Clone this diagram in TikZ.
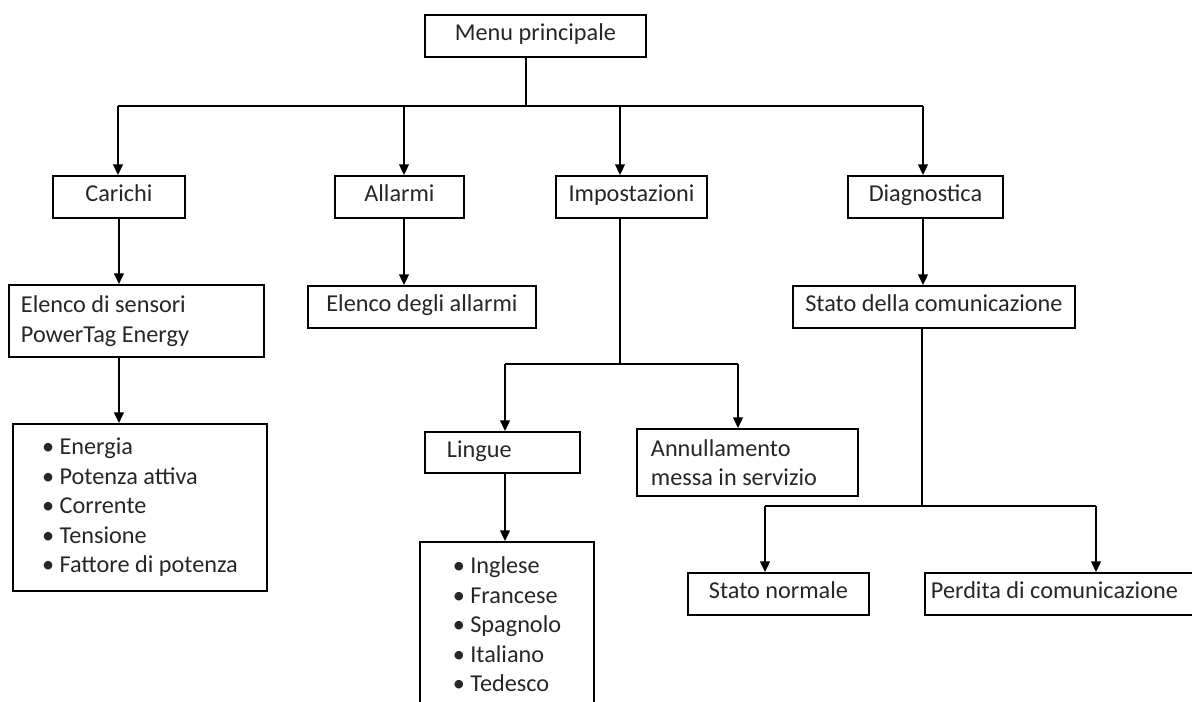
\documentclass[tikz,border=0pt]{standalone}
\usepackage{fontspec}
\setmainfont{Carlito}
\usetikzlibrary{arrows.meta, positioning}

\begin{document}
\begin{tikzpicture}[font=\fontsize{13.8pt}{16.8pt}\selectfont, text=black!85, bx/.style={draw, line width=1.1pt, anchor=north west, inner sep=0pt, minimum height=0.84cm}, b/.style={bx, text height=1.6ex, text depth=0.45ex}, lb/.style={bx, align=flush left}, arr/.style={-{Triangle[length=6pt,width=5.5pt]}, line width=1.1pt}, ln/.style={line width=1.1pt}]
  \useasboundingbox (0,0) rectangle (23.84,-14.04);
  % level 0 and 1
  \node[b, minimum width=4.42cm](menu) at (8.48,-0.28){Menu principale};
  \node[b, minimum width=2.64cm](car) at (1.04,-3.5){Carichi};
  \node[b, minimum width=2.58cm](all) at (6.68,-3.5){Allarmi};
  \node[b, minimum width=3.02cm](imp) at (11.1,-3.5){Impostazioni};
  \node[b, minimum width=3.10cm](dia) at (16.94,-3.5){Diagnostica};
  % level 2
  \node[lb, minimum height=1.44cm, text width=4.62cm, inner xsep=0.24cm](sens) at (0.16,-5.68){Elenco di sensori\\PowerTag Energy};
  \node[b, minimum width=4.56cm](alll) at (6.14,-5.7){Elenco degli allarmi};
  \node[b, minimum width=5.64cm](stc) at (15.84,-5.7){Stato della comunicazione};
  \node[lb, minimum width=5.08cm, minimum height=3.34cm](carl) at (0.24,-8.46){• Energia\\• Potenza attiva\\• Corrente\\• Tensione\\• Fattore di potenza};
  % settings branch
  \node[lb, minimum height=0.82cm, text width=2.22cm, inner xsep=0.44cm, text height=1.6ex, text depth=0.45ex](ling) at (8.48,-8.62){Lingue};
  \node[lb, minimum height=1.34cm, text width=3.86cm, inner xsep=0.28cm](ann) at (12.72,-8.56){Annullamento\\messa in servizio};
  \node[lb, minimum width=3.48cm, minimum height=3.3cm](lingl) at (8.38,-10.82){• Inglese\\• Francese\\• Spagnolo\\• Italiano\\• Tedesco};
  % diagnostics branch
  \node[b, minimum width=3.62cm, minimum height=0.84cm](stn) at (13.74,-11.44){Stato normale};
  \node[lb, minimum height=0.84cm, text width=5.18cm, inner xsep=0.12cm, text height=1.6ex, text depth=0.45ex](per) at (18.48,-11.44){Perdita di comunicazione};
  % connectors
  \coordinate (j0) at (10.52,-2.12);
  \draw[ln](j0 |- menu.south)--(j0);
  \foreach \n/\x in {car/2.36,all/8.08,imp/12.4,dia/18.46}{\coordinate (t\n) at (\x,-2.12); \draw[arr](t\n)--(t\n |- \n.north);}
  \draw[ln](tcar)--(tdia);
  \draw[arr](car.south)--(car.south |- sens.north);
  \draw[arr](car.south |- sens.south)--(car.south |- carl.north);
  \draw[arr](tall |- all.south)--(tall |- alll.north);
  \coordinate (j1) at (12.4,-7.28);
  \coordinate (j1a) at (10.1,-7.28);
  \coordinate (j1b) at (14.76,-7.28);
  \draw[ln](timp |- imp.south)--(j1);
  \draw[ln](j1a)--(j1b);
  \draw[arr](j1a)--(j1a |- ling.north);
  \draw[arr](j1b)--(j1b |- ann.north);
  \draw[arr](j1a |- ling.south)--(j1a |- lingl.north);
  \draw[arr](tdia |- dia.south)--(tdia |- stc.north);
  \coordinate (j2) at (18.44,-10.12);
  \coordinate (j2a) at (15.3,-10.12);
  \coordinate (j2b) at (21.92,-10.12);
  \draw[ln](j2 |- stc.south)--(j2);
  \draw[ln](j2a)--(j2b);
  \draw[arr](j2a)--(j2a |- stn.north);
  \draw[arr](j2b)--(j2b |- per.north);
\end{tikzpicture}
\end{document}
